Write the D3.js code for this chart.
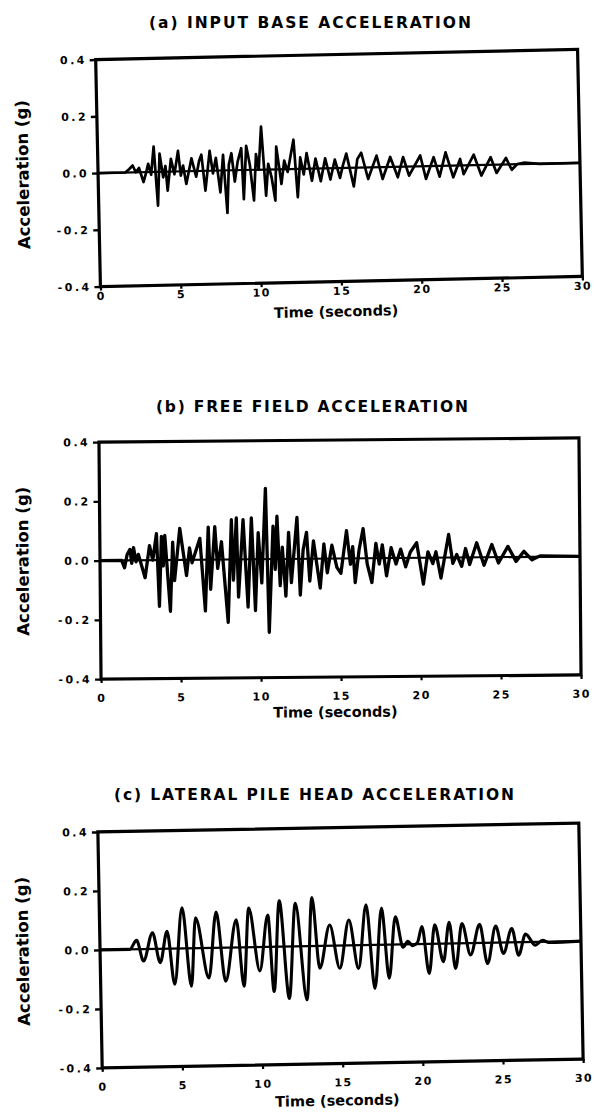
<!DOCTYPE html>
<html><head><meta charset="utf-8">
<script src="https://cdn.jsdelivr.net/npm/d3@7"></script>
<style>
body{margin:0;background:#fff;}
svg{display:block;background:#fff;}
</style></head><body>
<svg id="chart" width="594" height="1115"></svg>
<script>
// ---- data ----
const yTickValues = [-0.4, -0.2, 0, 0.2, 0.4];
const yTickLabels = ["-0.4", "-0.2", "0.0", "0.2", "0.4"];
const xTickValues = [0, 5, 10, 15, 20, 25, 30];
const xTickLabels = ["0", "5", "10", "15", "20", "25", "30"];
const panelTitles = ["(a) INPUT BASE ACCELERATION", "(b) FREE FIELD ACCELERATION", "(c) LATERAL PILE HEAD ACCELERATION"];
const xAxisTitle = "Time (seconds)";
const yAxisTitle = "Acceleration (g)";

// [time (s), acceleration (g)]
const inputBase = [[0,0],[1.7,0],[1.95,0.012],[2.16,0.024],[2.35,0.0],[2.55,0.015],[2.82,-0.035],[3.0,0.0],[3.13,0.029],[3.3,-0.01],[3.49,0.089],[3.69,-0.119],[3.85,0.064],[4.05,-0.02],[4.2,0.02],[4.31,-0.067],[4.55,0.045],[4.75,-0.01],[5.0,0.072],[5.15,-0.015],[5.3,0.02],[5.48,-0.045],[5.83,0.045],[6.1,-0.02],[6.3,0.035],[6.45,0.057],[6.66,-0.07],[6.97,0.07],[7.15,-0.01],[7.35,0.045],[7.59,-0.077],[7.8,0.055],[8.0,-0.15],[8.15,0.02],[8.32,0.06],[8.5,-0.04],[8.7,0.03],[8.94,0.077],[9.04,-0.103],[9.25,0.085],[9.45,0.02],[9.67,-0.108],[9.85,0.055],[10.0,0.0],[10.2,0.152],[10.43,-0.092],[10.6,0.02],[10.8,-0.03],[11.0,-0.11],[11.12,0.08],[11.4,-0.052],[11.6,0.03],[11.8,-0.01],[12.2,0.103],[12.4,-0.1],[12.6,0.04],[12.8,-0.02],[13.0,0.055],[13.3,-0.043],[13.55,0.035],[13.85,-0.045],[14.15,0.035],[14.45,-0.04],[14.75,0.03],[15.05,-0.035],[15.25,0.01],[15.47,0.05],[15.9,-0.066],[16.15,0.03],[16.4,0.052],[16.8,-0.041],[17.35,0.041],[17.7,-0.042],[18.2,0.035],[18.65,-0.037],[19.0,0.034],[19.35,-0.032],[20.07,0.038],[20.4,-0.045],[20.9,0.031],[21.25,-0.038],[21.65,0.047],[22.1,-0.041],[22.55,0.023],[22.75,-0.031],[23.4,0.037],[23.85,-0.037],[24.45,0.027],[24.8,-0.029],[25.4,0.023],[25.75,-0.019],[26.1,0.001],[26.5,0.005],[27.5,0],[30,0]];

const freeField = [[0,0],[1.35,0],[1.53,-0.025],[1.7,0.02],[1.88,0.037],[1.98,-0.01],[2.1,0.043],[2.25,-0.005],[2.4,0.02],[2.81,-0.059],[3.1,0.049],[3.3,0.0],[3.54,0.089],[3.69,-0.156],[3.85,0.08],[3.95,-0.02],[4.06,0.083],[4.375,-0.173],[4.55,0.06],[4.65,-0.07],[5.0,0.106],[5.4,-0.053],[5.6,0.04],[5.75,-0.01],[6.25,0.072],[6.56,-0.173],[6.78,0.11],[6.9,-0.1],[7.19,0.111],[7.35,-0.03],[7.6,0.06],[7.98,-0.212],[8.23,0.134],[8.33,-0.07],[8.54,0.14],[8.64,-0.127],[8.96,0.134],[9.23,-0.161],[9.48,0.14],[9.69,-0.173],[9.9,0.09],[10.1,-0.08],[10.375,0.239],[10.54,-0.247],[10.83,0.111],[10.95,-0.035],[11.08,0.145],[11.25,-0.09],[11.4,0.04],[11.6,-0.125],[11.8,0.09],[11.95,-0.08],[12.33,0.14],[12.5,-0.122],[12.7,0.03],[12.92,0.089],[13.1,-0.075],[13.35,0.06],[13.75,-0.099],[14.0,0.05],[14.2,-0.048],[14.5,0.045],[14.8,-0.03],[15.05,-0.05],[15.42,0.094],[15.65,-0.02],[15.8,0.04],[15.94,-0.082],[16.2,0.03],[16.46,0.1],[16.7,-0.02],[16.98,-0.082],[17.25,0.05],[17.45,-0.02],[17.65,0.045],[17.9,-0.06],[18.2,0.035],[18.5,-0.02],[18.8,0.03],[19.1,-0.03],[19.4,0.02],[19.8,0.051],[20.2,-0.089],[20.5,0.02],[20.8,-0.02],[21.0,0.02],[21.3,-0.069],[21.8,0.078],[22.05,-0.02],[22.3,0.01],[22.6,-0.03],[22.85,0.03],[23.1,-0.024],[23.55,0.049],[24.0,-0.027],[24.5,0.043],[24.9,-0.02],[25.5,0.036],[26.0,-0.015],[26.5,0.019],[27.0,-0.01],[27.5,0.003],[30,0]];

const pileHead = [[0,0],[1.85,0],[2.29,0.03],[2.7,-0.04],[3.29,0.055],[3.74,-0.047],[4.2,0.059],[4.62,-0.121],[5.16,0.138],[5.66,-0.129],[5.99,0.103],[6.76,-0.102],[7.28,0.121],[7.8,-0.114],[8.53,0.094],[8.94,-0.132],[9.32,0.133],[9.94,-0.081],[10.5,0.108],[10.81,-0.152],[11.23,0.155],[11.75,-0.176],[12.23,0.146],[12.85,-0.182],[13.27,0.164],[13.68,-0.076],[14.35,0.07],[14.93,-0.077],[15.55,0.086],[16.1,-0.079],[16.64,0.136],[17.1,-0.148],[17.6,0.124],[18.0,-0.114],[18.45,0.094],[18.9,-0.01],[19.2,0.01],[19.5,-0.005],[19.8,0.005],[20.1,0.059],[20.5,-0.1],[20.9,0.064],[21.4,-0.061],[21.8,0.072],[22.15,-0.085],[22.6,0.067],[23.1,-0.04],[23.7,0.063],[24.15,-0.07],[24.7,0.056],[25.15,-0.037],[25.7,0.047],[26.1,-0.044],[26.55,0.027],[27.15,-0.011],[27.6,0.005],[28.0,-0.003],[30,0]];

const seriesList = [inputBase, freeField, pileHead];

// ---- layout ----
const layout = [
  {left:98,  right:580, top:54.5,  bottom:281.5, angle:-1.2,  xPad:1.5, xTitleDy:30, titleX:310, titleY:23,  titleLen:322, curve:d3.curveLinear,     sw:2.7},
  {left:100, right:580, top:440,   bottom:677,   angle:-0.5,  xPad:11,  xTitleDy:35, titleX:312, titleY:407, titleLen:312, curve:d3.curveLinear,     sw:3.3},
  {left:100, right:581, top:827.5, bottom:1063.5,angle:-1.05, xPad:11,  xTitleDy:37, titleX:314, titleY:795, titleLen:400, curve:d3.curveMonotoneX, sw:3.1}
];
const FONT = "'DejaVu Sans', sans-serif";

const svg = d3.select("#chart");

layout.forEach((p, i) => {
  const cx = (p.left + p.right) / 2, cy = (p.top + p.bottom) / 2;
  const x = d3.scaleLinear().domain([0, 30]).range([p.left, p.right]);
  const y = d3.scaleLinear().domain([-0.4, 0.4]).range([p.bottom, p.top]);

  svg.append("text")
    .attr("x", p.titleX).attr("y", p.titleY)
    .attr("text-anchor", "middle").attr("dominant-baseline", "central")
    .attr("font-family", FONT).attr("font-weight", "bold").attr("font-size", 15.5)
    .attr("textLength", p.titleLen).attr("lengthAdjust", "spacing")
    .text(panelTitles[i]);

  const g = svg.append("g").attr("transform", `rotate(${p.angle},${cx},${cy})`);

  const yAxis = d3.axisLeft(y).tickValues(yTickValues)
    .tickFormat((d, k) => yTickLabels[k]).tickSize(6).tickPadding(3);
  const ya = g.append("g").attr("transform", `translate(${p.left},0)`).call(yAxis);
  ya.select(".domain").remove();
  ya.attr("font-family", FONT).attr("font-size", 11).attr("font-weight", "bold");
  ya.selectAll("line").attr("stroke", "#000").attr("stroke-width", 2.4);
  ya.selectAll("text").attr("letter-spacing", 2.4).attr("fill", "#000");

  const xAxis = d3.axisBottom(x).tickValues(xTickValues)
    .tickFormat((d, k) => xTickLabels[k]).tickSize(4).tickPadding(p.xPad);
  const xa = g.append("g").attr("transform", `translate(0,${p.bottom})`).call(xAxis);
  xa.select(".domain").remove();
  xa.attr("font-family", FONT).attr("font-size", 11).attr("font-weight", "bold");
  xa.selectAll("line").attr("stroke", "#000").attr("stroke-width", 2.2);
  xa.selectAll("text").attr("letter-spacing", 1.5).attr("fill", "#000");

  // zero reference line
  g.append("line")
    .attr("x1", x(0)).attr("x2", x(30)).attr("y1", y(0)).attr("y2", y(0))
    .attr("stroke", "#000").attr("stroke-width", 2.2);

  // signal
  const line = d3.line().x(d => x(d[0])).y(d => y(d[1])).curve(p.curve);
  g.append("path").datum(seriesList[i])
    .attr("d", line).attr("fill", "none").attr("stroke", "#000")
    .attr("stroke-width", p.sw).attr("stroke-linejoin", "round");

  // frame
  g.append("rect")
    .attr("x", p.left).attr("y", p.top)
    .attr("width", p.right - p.left).attr("height", p.bottom - p.top)
    .attr("fill", "none").attr("stroke", "#000").attr("stroke-width", 3.2);

  // axis titles
  g.append("text")
    .attr("x", cx - 6).attr("y", p.bottom + p.xTitleDy)
    .attr("text-anchor", "middle").attr("dominant-baseline", "central")
    .attr("font-family", FONT).attr("font-weight", "bold").attr("font-size", 14.5)
    .text(xAxisTitle);

  g.append("text")
    .attr("transform", `translate(23,${cy}) rotate(-90)`)
    .attr("text-anchor", "middle").attr("dominant-baseline", "central")
    .attr("font-family", FONT).attr("font-weight", "bold").attr("font-size", 16.5)
    .text(yAxisTitle);
});
</script>
</body></html>
